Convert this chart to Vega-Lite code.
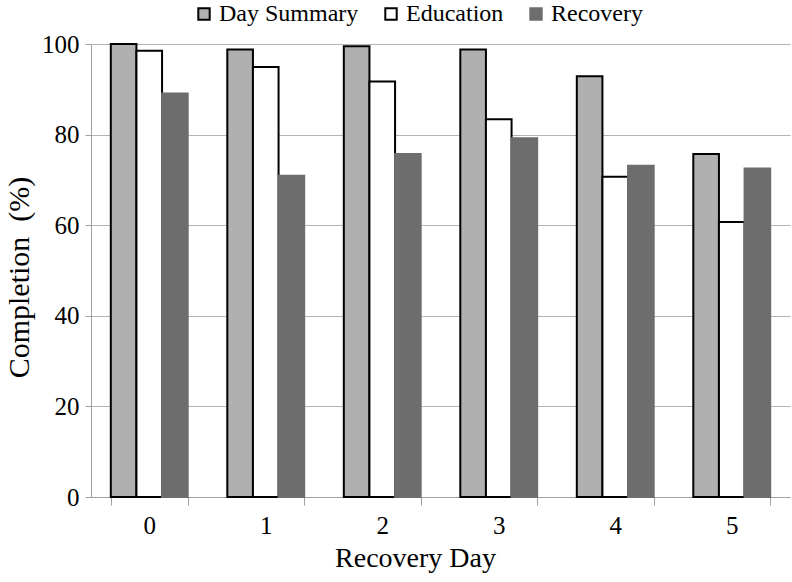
{
  "$schema": "https://vega.github.io/schema/vega-lite/v6.json",
  "width": 699,
  "height": 453,
  "autosize": {"type": "none"},
  "padding": {"left": 91, "top": 44, "right": 2, "bottom": 85},
  "background": "white",
  "data": {
    "values": [
      {"day": "0", "series": "Day Summary", "pct": 100},
      {"day": "0", "series": "Education", "pct": 98.5},
      {"day": "0", "series": "Recovery", "pct": 89.1},
      {"day": "1", "series": "Day Summary", "pct": 98.8},
      {"day": "1", "series": "Education", "pct": 94.9},
      {"day": "1", "series": "Recovery", "pct": 70.9},
      {"day": "2", "series": "Day Summary", "pct": 99.5},
      {"day": "2", "series": "Education", "pct": 91.7},
      {"day": "2", "series": "Recovery", "pct": 75.7},
      {"day": "3", "series": "Day Summary", "pct": 98.8},
      {"day": "3", "series": "Education", "pct": 83.4},
      {"day": "3", "series": "Recovery", "pct": 79.2},
      {"day": "4", "series": "Day Summary", "pct": 92.9},
      {"day": "4", "series": "Education", "pct": 70.7},
      {"day": "4", "series": "Recovery", "pct": 73.1},
      {"day": "5", "series": "Day Summary", "pct": 75.7},
      {"day": "5", "series": "Education", "pct": 60.7},
      {"day": "5", "series": "Recovery", "pct": 72.5}
    ]
  },
  "config": {
    "font": "Liberation Serif",
    "view": {"stroke": null},
    "axis": {
      "labelFont": "Liberation Serif",
      "titleFont": "Liberation Serif",
      "labelColor": "black",
      "titleColor": "black",
      "titleFontWeight": "normal",
      "domainColor": "#a0a0a0",
      "tickColor": "#a0a0a0",
      "gridColor": "#b4b4b4"
    },
    "legend": {
      "labelFont": "Liberation Serif",
      "labelColor": "black",
      "labelFontSize": 24
    }
  },
  "mark": {"type": "bar", "strokeWidth": 2},
  "encoding": {
    "x": {
      "field": "day",
      "type": "nominal",
      "scale": {"paddingInner": 0.34, "paddingOuter": 0.17},
      "axis": {
        "title": "Recovery Day",
        "titleFontSize": 28,
        "titlePadding": 6,
        "titleX": 324,
        "labelFontSize": 25,
        "labelAngle": 0,
        "labelPadding": 8,
        "tickBand": "extent",
        "tickSize": 8,
        "grid": false
      }
    },
    "xOffset": {
      "field": "series",
      "type": "nominal",
      "scale": {"paddingInner": 0, "paddingOuter": 0}
    },
    "y": {
      "field": "pct",
      "type": "quantitative",
      "scale": {"domain": [0, 100], "nice": false},
      "axis": {
        "title": "Completion\u00a0\u00a0(%)",
        "titleFontSize": 30,
        "titlePadding": 7,
        "titleY": 233,
        "labelFontSize": 25,
        "labelPadding": 6,
        "tickSize": 6,
        "values": [0, 20, 40, 60, 80, 100],
        "grid": true
      }
    },
    "fill": {
      "field": "series",
      "type": "nominal",
      "scale": {
        "domain": ["Day Summary", "Education", "Recovery"],
        "range": ["#b0b0b0", "#ffffff", "#6d6d6d"]
      },
      "legend": {
        "title": null,
        "orient": "none",
        "direction": "horizontal",
        "legendX": 101,
        "legendY": -42,
        "symbolType": "square",
        "symbolSize": 130,
        "symbolStrokeWidth": 2,
        "labelFontSize": 24,
        "labelOffset": 3,
        "columnPadding": 20
      }
    },
    "stroke": {
      "field": "series",
      "type": "nominal",
      "scale": {
        "domain": ["Day Summary", "Education", "Recovery"],
        "range": ["#000000", "#000000", "#6d6d6d"]
      },
      "legend": {
        "title": null,
        "orient": "none",
        "direction": "horizontal",
        "legendX": 101,
        "legendY": -42,
        "symbolType": "square",
        "symbolSize": 130,
        "symbolStrokeWidth": 2,
        "labelFontSize": 24,
        "labelOffset": 3,
        "columnPadding": 20
      }
    }
  }
}
